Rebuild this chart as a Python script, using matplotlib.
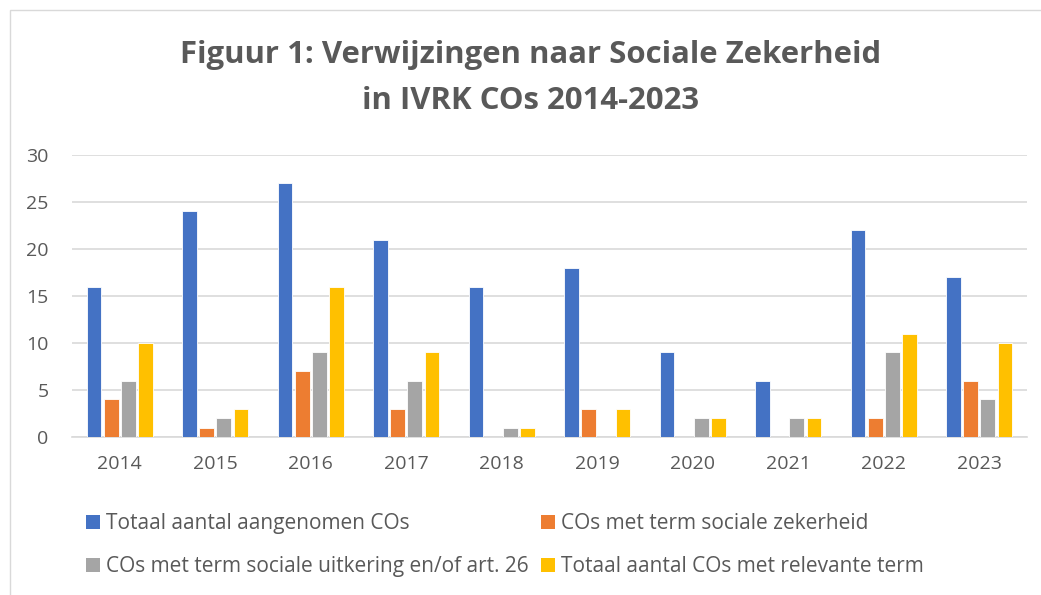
import numpy as np
import matplotlib.pyplot as plt
from matplotlib.patches import Rectangle, Patch

# data
years = ['2014', '2015', '2016', '2017', '2018', '2019', '2020', '2021', '2022', '2023']
totaal = [16, 24, 27, 21, 16, 18, 9, 6, 22, 17]
zekerheid = [4, 1, 7, 3, 0, 3, 0, 0, 2, 6]
uitkering = [6, 2, 9, 6, 1, 0, 2, 2, 9, 4]
relevant = [10, 3, 16, 9, 1, 3, 2, 2, 11, 10]

series_names = [
    'Totaal aantal aangenomen COs',
    'COs met term sociale zekerheid',
    'COs met term sociale uitkering en/of art. 26',
    'Totaal aantal COs met relevante term',
]
colors = ['#4472C4', '#ED7D31', '#A5A5A5', '#FFC000']

plt.rcParams['font.family'] = ['Open Sans', 'DejaVu Sans']
text_color = '#595959'

fig = plt.figure(figsize=(10.41, 5.95), dpi=100)
ax = fig.add_axes([72 / 1041, 1 - 437 / 595, 955 / 1041, 282 / 595])

# light frame around the chart area
fig.patches.append(Rectangle((10 / 1041, -0.1), 1.2, 1 - 10 / 595 + 0.1,
                             transform=fig.transFigure, fill=False,
                             edgecolor='#d9d9d9', linewidth=1))

x = np.arange(len(years))
step = 0.18
width = 0.155
all_series = [totaal, zekerheid, uitkering, relevant]
for i, (vals, col) in enumerate(zip(all_series, colors)):
    ax.bar(x + (i - 1.5) * step, vals, width, color=col,
           edgecolor='white', linewidth=0.6, zorder=3)

ax.set_xlim(-0.5, len(years) - 0.5)
ax.set_ylim(0, 30)
ax.set_yticks(range(0, 31, 5))
ax.set_xticks(x)
ax.set_xticklabels(years)
ax.yaxis.grid(True, color='#d9d9d9', linewidth=1.2, zorder=0)
ax.set_axisbelow(True)
for side in ['top', 'right', 'left']:
    ax.spines[side].set_visible(False)
ax.spines['bottom'].set_color('#d9d9d9')
ax.spines['bottom'].set_linewidth(1.2)
ax.tick_params(axis='both', length=0, labelsize=14, colors=text_color)
ax.tick_params(axis='y', pad=17)
ax.tick_params(axis='x', pad=13)

fig.text(531 / 1041, 1 - 55 / 595, 'Figuur 1: Verwijzingen naar Sociale Zekerheid',
         ha='center', va='center', fontsize=22.4, fontweight='bold', color=text_color)
fig.text(531 / 1041, 1 - 101 / 595, 'in IVRK COs 2014-2023',
         ha='center', va='center', fontsize=22.4, fontweight='bold', color=text_color)

# legend filled row by row
handles = [Patch(facecolor=c) for c in colors]
order = [0, 2, 1, 3]
fig.legend([handles[i] for i in order], [series_names[i] for i in order],
           ncol=2, loc='upper left', bbox_to_anchor=(76 / 1041, 1 - 503 / 595),
           frameon=False, fontsize=15, labelcolor=text_color,
           handlelength=0.65, handleheight=0.65, handletextpad=0.3,
           columnspacing=0.6, labelspacing=1.05, borderpad=0)

fig.savefig('out.png', dpi=100)
